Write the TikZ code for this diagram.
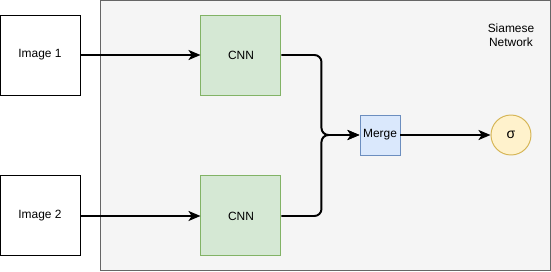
\documentclass[tikz,border=0pt]{standalone}
\usepackage{fontspec}
\setmainfont{Liberation Sans}
\usepackage{tikz}
\usetikzlibrary{positioning}
\usetikzlibrary{arrows.meta}

\definecolor{netfill}{HTML}{F5F5F5}
\definecolor{netline}{HTML}{666666}
\definecolor{cnnfill}{HTML}{D5E8D4}
\definecolor{cnnline}{HTML}{82B366}
\definecolor{mergefill}{HTML}{DAE8FC}
\definecolor{mergeline}{HTML}{6C8EBF}
\definecolor{sigfill}{HTML}{FFF2CC}
\definecolor{sigline}{HTML}{D6B656}

\tikzset{
  imgbox/.style={draw=black, line width=0.7pt, minimum size=2cm, inner sep=0pt, font=\fontsize{8.5}{10}\selectfont},
  cnnbox/.style={draw=cnnline, fill=cnnfill, line width=0.7pt, minimum size=2cm, inner sep=0pt, font=\fontsize{8.5}{10}\selectfont},
  mergebox/.style={draw=mergeline, fill=mergefill, line width=0.7pt, minimum size=1cm, inner sep=0pt, font=\fontsize{8.5}{10}\selectfont},
  sigcircle/.style={circle, draw=sigline, fill=sigfill, line width=0.7pt, minimum size=1cm, inner sep=0pt, font=\fontsize{10}{11}\selectfont},
  flow/.style={line width=1.4pt, -{Stealth[length=0.3cm, width=0.25cm, inset=0.08cm]}}
}

\begin{document}
\begin{tikzpicture}
    \useasboundingbox (0,0) rectangle (13.775,6.775);
    \draw[netline, fill=netfill, line width=0.7pt] (2.5,0.025) rectangle (13.75,6.775);
    \node[align=center, font=\fontsize{8.5}{10}\selectfont] (title) at (12.775,5.9) {Siamese\\Network};

    \node[imgbox] (img1) at (1,5.4) {Image 1};
    \node[imgbox, below=2cm of img1] (img2) {Image 2};
    \node[cnnbox, right=3cm of img1] (cnn1) {CNN};
    \node[cnnbox, right=3cm of img2] (cnn2) {CNN};
    \node[mergebox] (merge) at (9.5,3.4) {Merge};
    \node[sigcircle, right=2.25cm of merge] (sig) {σ};

    \draw[flow] (img1) -- (cnn1);
    \draw[flow] (img2) -- (cnn2);
    \draw[flow, rounded corners=5pt] (cnn1.east) -- ++(1,0) |- (merge.west);
    \draw[flow, rounded corners=5pt] (cnn2.east) -- ++(1,0) |- (merge.west);
    \draw[flow] (merge) -- (sig);
  \end{tikzpicture}
\end{document}
